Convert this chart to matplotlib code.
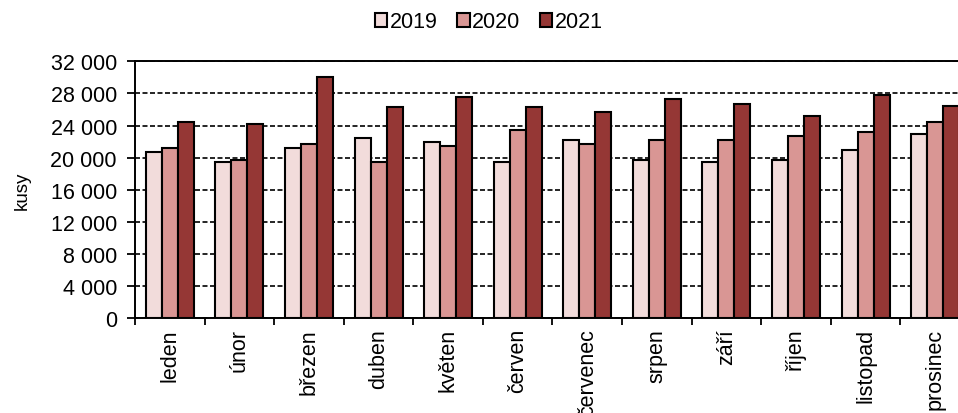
import numpy as np
import matplotlib
matplotlib.use('Agg')
import matplotlib.pyplot as plt

plt.rcParams['font.family'] = ['Liberation Sans', 'DejaVu Sans']

months = ['leden', 'únor', 'březen', 'duben', 'květen', 'červen',
          'červenec', 'srpen', 'září', 'říjen', 'listopad', 'prosinec']
years = ['2019', '2020', '2021']
v2019 = [20750, 19500, 21250, 22500, 22000, 19500, 22250, 19750, 19500, 19750, 21000, 23000]
v2020 = [21250, 19750, 21750, 19500, 21500, 23500, 21750, 22250, 22250, 22750, 23250, 24500]
v2021 = [24500, 24250, 30000, 26300, 27500, 26300, 25750, 27250, 26750, 25250, 27800, 26500]
yticks = [0, 4000, 8000, 12000, 16000, 20000, 24000, 28000, 32000]

colors = ['#f2dcdb', '#d99694', '#953735']
FS = 15.5

fig = plt.figure(figsize=(9.58, 4.14), dpi=100)
ax = fig.add_axes([0.1409, 0.2287, 0.8716, 0.6207])

x = np.arange(len(months))
w = 0.23
bars = []
for i, (vals, yr) in enumerate(zip([v2019, v2020, v2021], years)):
    b = ax.bar(x + (i - 1) * w, vals, w, color=colors[i], edgecolor='black',
               linewidth=1.5, label=yr, zorder=3)
    bars.append(b)

ax.set_xlim(-0.5, len(months) - 0.5)
ax.set_ylim(0, 32000)
ax.set_yticks(yticks)
ax.set_yticklabels(['{:,}'.format(t).replace(',', ' ') for t in yticks], fontsize=FS)
ax.set_xticks(np.arange(len(months) + 1) - 0.5)
ax.set_xticklabels([])
ax.set_xticks(x, minor=True)
ax.set_xticklabels(months, minor=True, rotation=90, fontsize=FS)
ax.tick_params(axis='x', which='minor', length=0, pad=7)
ax.tick_params(axis='x', which='major', length=5, width=1.3, direction='out')
ax.tick_params(axis='y', length=6, width=1.3, pad=7)

ax.yaxis.grid(True, color='black', linestyle=(0, (3, 1.5)), linewidth=1.2, zorder=0)
ax.set_axisbelow(True)
for s in ['left', 'bottom', 'top']:
    ax.spines[s].set_linewidth(1.4)
ax.spines['right'].set_visible(False)

ax.set_ylabel('kusy', fontsize=FS - 2)
ax.yaxis.set_label_coords(-0.125, 0.5)

fig.legend(handles=bars, labels=years, loc='center', bbox_to_anchor=(0.51, 0.945),
           ncol=3, frameon=False, fontsize=FS, handlelength=0.6, handleheight=0.6,
           handletextpad=0.1, columnspacing=0.9)

fig.savefig('out.png', dpi=100)
